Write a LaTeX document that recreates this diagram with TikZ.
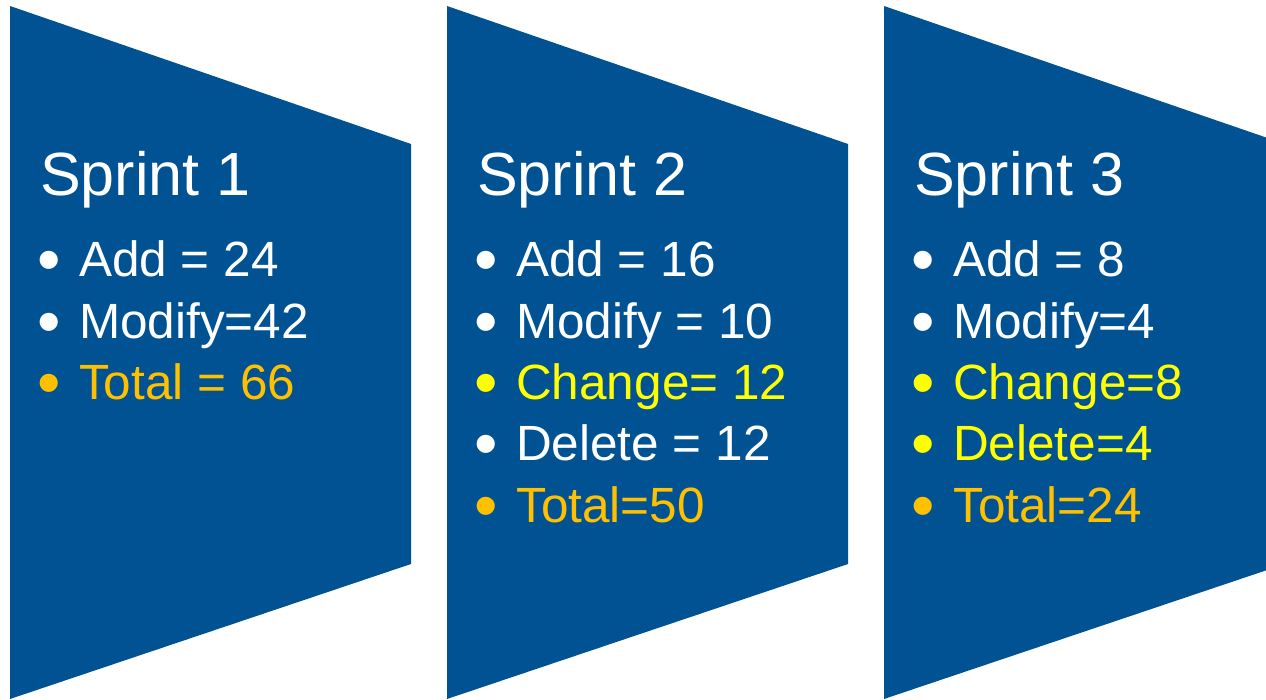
\documentclass[tikz,border=0pt]{standalone}
\usepackage{fontspec}
\usepackage{graphicx}
\setmainfont{Liberation Sans}
\definecolor{sprintblue}{HTML}{005293}
\definecolor{totalorange}{HTML}{FFC000}
\definecolor{changeyellow}{HTML}{FFFF00}
\tikzset{
  chevron/.style={fill=sprintblue, draw=none},
  title/.style={anchor=base west, inner sep=0pt, text=white, font=\fontsize{61pt}{70pt}\selectfont},
  item/.style={anchor=base west, inner sep=0pt, font=\fontsize{49.5pt}{60pt}\selectfont},
}
\newcommand{\bul}[1]{\makebox[39.5pt][l]{\hspace*{-2pt}\raisebox{-6pt}{\scalebox{1.35}{•}}}#1}
\begin{document}
\begin{tikzpicture}[x=1pt,y=-1pt]
\useasboundingbox (0,0) rectangle (1266,699);
\clip (0,0) rectangle (1266,699);
\foreach \dx in {0,437,874}{
  \fill[chevron] (10+\dx,6) -- (411+\dx,144) -- (411+\dx,564) -- (10+\dx,699) -- cycle;
}
% Sprint 1
\node[title] (t1) at (40,195) {Sprint 1};
\node[item,text=white] (a1) at (39.5,276) {\bul{Add = 24}};
\node[item,text=white] (m1) at (39.5,338) {\bul{Modify=42}};
\node[item,text=totalorange] (s1) at (39.5,399) {\bul{Total = 66}};
% Sprint 2
\node[title] (t2) at (477,195) {Sprint 2};
\node[item,text=white] (a2) at (476.5,276) {\bul{Add = 16}};
\node[item,text=white] (m2) at (476.5,338) {\bul{Modify = 10}};
\node[item,text=changeyellow] (c2) at (476.5,399) {\bul{Change= 12}};
\node[item,text=white] (d2) at (476.5,460) {\bul{Delete = 12}};
\node[item,text=totalorange] (s2) at (476.5,522) {\bul{Total=50}};
% Sprint 3
\node[title] (t3) at (914,195) {Sprint 3};
\node[item,text=white] (a3) at (913.5,276) {\bul{Add = 8}};
\node[item,text=white] (m3) at (913.5,338) {\bul{Modify=4}};
\node[item,text=changeyellow] (c3) at (913.5,399) {\bul{Change=8}};
\node[item,text=changeyellow] (d3) at (913.5,460) {\bul{Delete=4}};
\node[item,text=totalorange] (s3) at (913.5,522) {\bul{Total=24}};
\end{tikzpicture}
\end{document}
